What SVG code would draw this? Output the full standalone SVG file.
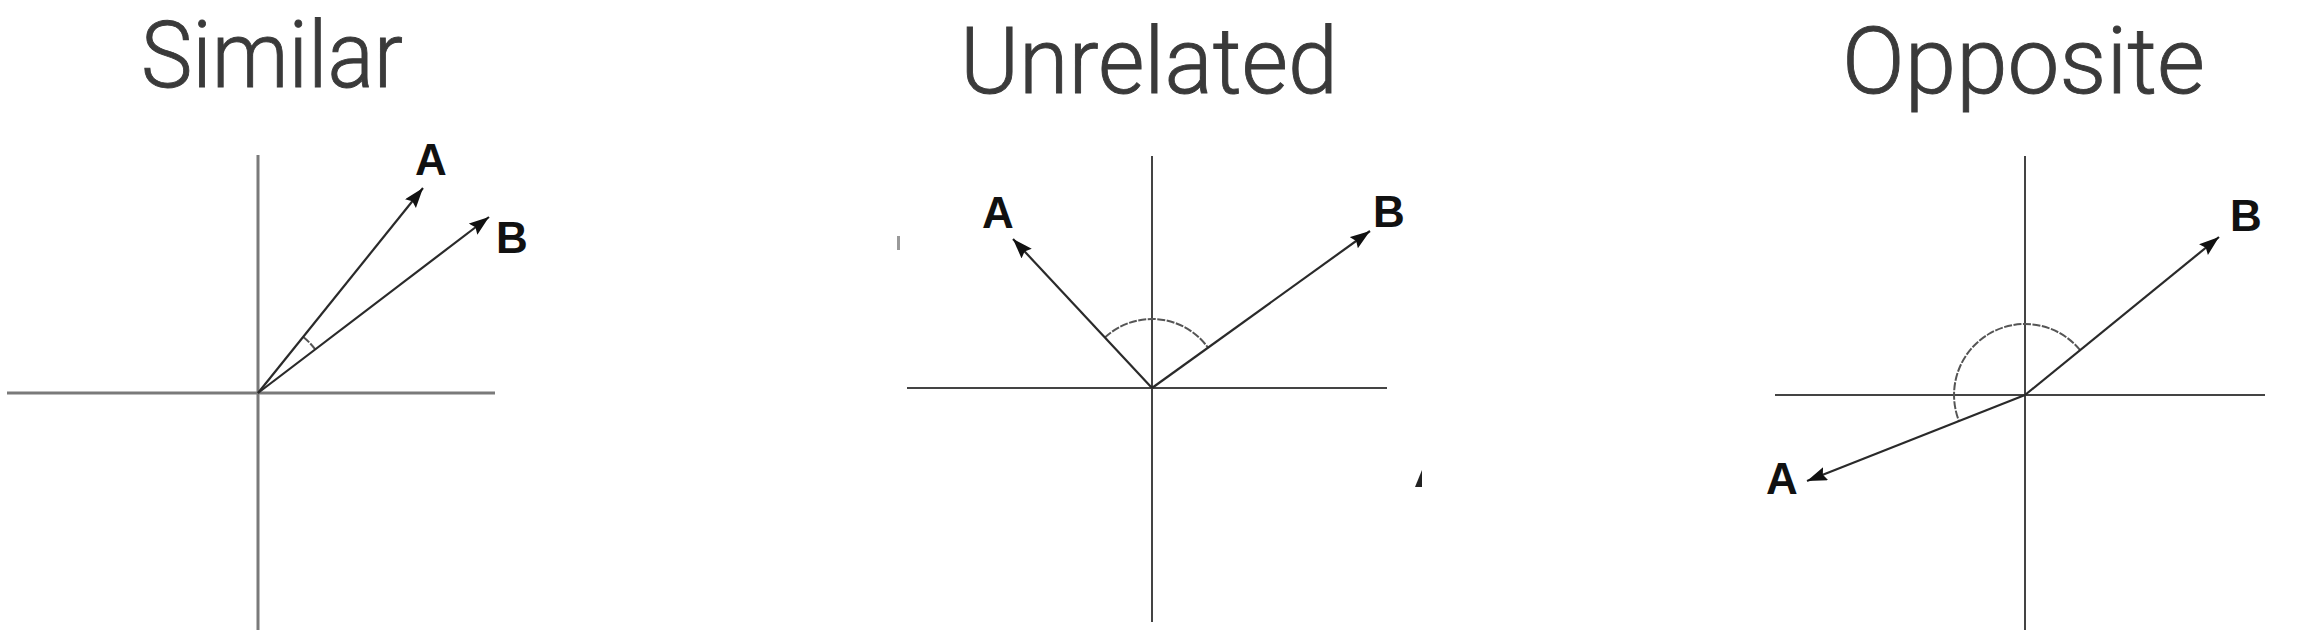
<svg xmlns="http://www.w3.org/2000/svg" width="2324" height="638" viewBox="0 0 2324 638">
<defs>
<marker id="ah" markerUnits="userSpaceOnUse" markerWidth="22" markerHeight="16" refX="20" refY="7" orient="auto">
<path d="M0,0 L20,7 L0,14 L3,7 z" fill="#111"/>
</marker>
<style>
.title{font-family:Roboto,"Liberation Sans",sans-serif;font-weight:300;font-size:92px;fill:#3a3a3a;stroke:#3a3a3a;stroke-width:0.9}
.lbl{font-family:"Liberation Sans",Arial,sans-serif;font-weight:bold;font-size:44px;fill:#111}
.axis1{stroke:#7a7a7a;stroke-width:3;fill:none}
.axis{stroke:#444;stroke-width:2;fill:none}
.vec{stroke:#2a2a2a;stroke-width:2.2;fill:none;marker-end:url(#ah)}
.arc{stroke:#555;stroke-width:2;fill:none;stroke-dasharray:8 1.5}
</style>
</defs>
<rect width="2324" height="638" fill="#fff"/>

<g id="panel-similar">
<text class="title" x="141" y="87" textLength="262" lengthAdjust="spacingAndGlyphs">Similar</text>
<line class="axis1" x1="258" y1="155" x2="258" y2="630"/>
<line class="axis1" x1="7" y1="393" x2="495" y2="393"/>
<path class="arc" d="M303.3,337 A72,72 0 0,1 315.5,349.7"/>
<text class="lbl" x="415" y="175">A</text>
<text class="lbl" x="496" y="253">B</text>
</g>

<g id="panel-unrelated">
<text class="title" x="960" y="93" textLength="378" lengthAdjust="spacingAndGlyphs">Unrelated</text>
<line class="axis" x1="1152" y1="156" x2="1152" y2="622"/>
<line class="axis" x1="907" y1="388" x2="1387" y2="388"/>
<path class="arc" d="M1104.9,337.6 A69,69 0 0,1 1208,347.7"/>
<text class="lbl" x="982" y="228">A</text>
<text class="lbl" x="1373" y="227">B</text>
<rect x="897" y="236" width="3" height="14" fill="#999"/>
<path d="M1415,487 L1422,470 L1422,487 z" fill="#222"/>
</g>

<g id="panel-opposite">
<text class="title" x="1842" y="93" textLength="363" lengthAdjust="spacingAndGlyphs">Opposite</text>
<line class="axis" x1="2025" y1="156" x2="2025" y2="630"/>
<line class="axis" x1="1775" y1="395" x2="2265" y2="395"/>
<path class="arc" d="M2080.1,350.2 A71,71 0 0,0 1959,421.1"/>
<text class="lbl" x="1766" y="494">A</text>
<text class="lbl" x="2230" y="231">B</text>
</g>

<g id="connectors">
<line class="vec" x1="258" y1="393" x2="423" y2="188"/>
<line class="vec" x1="258" y1="393" x2="489" y2="217"/>
<line class="vec" x1="1152" y1="388" x2="1013" y2="239"/>
<line class="vec" x1="1152" y1="388" x2="1370" y2="231"/>
<line class="vec" x1="2025" y1="395" x2="2219" y2="237"/>
<line class="vec" x1="2025" y1="395" x2="1807" y2="481"/>
</g>
</svg>
